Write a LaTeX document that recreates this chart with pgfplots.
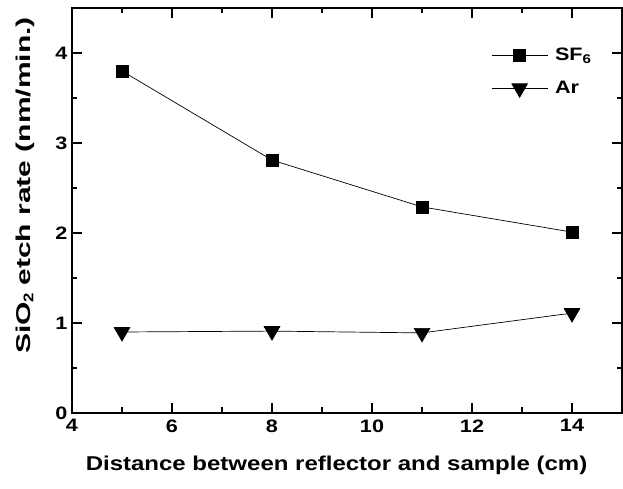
\documentclass[border=0pt]{standalone}
\usepackage{fontspec}
\setmainfont{Liberation Sans}[FakeStretch=1.2]
\newfontfamily\ylabfont{Liberation Sans}[FakeStretch=1.5]
\usepackage{pgfplots}
\pgfplotsset{compat=1.18}
\begin{document}
\begin{tikzpicture}
\begin{axis}[
    scale only axis,
    width=550pt, height=405pt,
    xmin=4, xmax=15, ymin=0, ymax=4.5,
    xtick={4,6,...,14}, ytick={0,1,2,3,4},
    minor xtick={5,7,...,13}, minor ytick={0.5,1.5,...,4},
    tick align=inside,
    major tick length=10pt, minor tick length=5.5pt,
    axis line style={line width=1.8pt},
    every tick/.style={black, line width=1.4pt},
    tick label style={font=\fontsize{18}{20}\selectfont\bfseries},
    /pgf/number format/assume math mode=true,
    xticklabel style={yshift=-3pt},
    yticklabel style={xshift=-1pt},
    xlabel={Distance between reflector and sample (cm)},
    ylabel={\ylabfont SiO$_{\mathbf 2}$ etch rate (nm/min.)},
    every axis x label/.style={at={(axis description cs:0.481,0)}, yshift=-52pt,
        anchor=center, font=\fontsize{20}{22}\selectfont\bfseries},
    every axis y label/.style={at={(axis description cs:0,0.562)}, xshift=-47pt,
        rotate=90, anchor=center, font=\fontsize{20}{22}\selectfont\bfseries},
    legend style={draw=none, fill=none, inner sep=0pt, at={(0.762,0.906)}, anchor=north west,
        font=\fontsize{18}{20}\selectfont\bfseries, row sep=15pt,
        /tikz/every even column/.append style={column sep=4pt},
        /tikz/every odd column/.append style={column sep=5pt}},
    legend cell align=left,
    legend image code/.code={\draw[mark repeat=2, mark phase=2]
        plot coordinates {(0pt,0pt) (28pt,0pt) (56pt,0pt)};},
]
\addplot[black, line width=0.7pt, mark=square*, mark size=6pt] coordinates {
    (5,3.80) (8,2.81) (11,2.29) (14,2.01)};
\addlegendentry{SF$_{\mathbf 6}$}
\addplot[black, line width=0.7pt, mark=triangle*, mark size=9pt, mark options={rotate=180}] coordinates {
    (5,0.90) (8,0.91) (11,0.89) (14,1.11)};
\addlegendentry{Ar}
\end{axis}
\pgfresetboundingbox
\path (-72pt,-76pt) rectangle (551pt,413pt);
\end{tikzpicture}
\end{document}
